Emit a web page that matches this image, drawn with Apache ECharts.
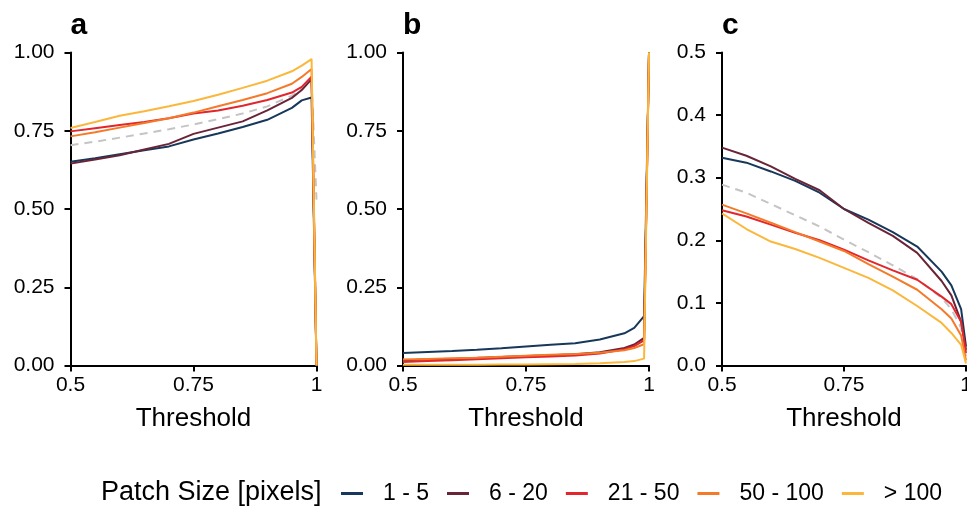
<!DOCTYPE html>
<html>
<head>
<meta charset="utf-8">
<script src="https://cdn.jsdelivr.net/npm/echarts@6/dist/echarts.min.js"></script>
<style>
html,body{margin:0;padding:0;background:#fff;}
#main{width:967px;height:506px;}
</style>
</head>
<body>
<div id="main"></div>
<script>
/*数据*/
var thresholds = [0.5,0.55,0.6,0.65,0.7,0.75,0.8,0.85,0.9,0.95,0.97,0.99,1];
var sizeLabels = ['1 - 5','6 - 20','21 - 50','50 - 100','> 100'];
var sizeColors = ['#17385a','#6a2438','#e2262b','#f47a2a','#fbb73c'];

// panel a
var a_1to5    = [0.651,0.662,0.675,0.688,0.700,0.722,0.741,0.762,0.785,0.823,0.847,0.856,0];
var a_6to20   = [0.645,0.658,0.672,0.690,0.708,0.740,0.760,0.780,0.815,0.855,0.880,0.915,0];
var a_21to50  = [0.748,0.758,0.768,0.778,0.790,0.805,0.815,0.830,0.848,0.872,0.890,0.923,0];
var a_50to100 = [0.732,0.745,0.760,0.775,0.790,0.808,0.828,0.848,0.870,0.900,0.922,0.947,0];
var a_gt100   = [0.759,0.778,0.798,0.812,0.828,0.845,0.865,0.887,0.910,0.940,0.958,0.979,0];
var a_all     = [0.704,0.715,0.728,0.741,0.755,0.770,0.787,0.805,0.828,0.862,0.885,0.910,0.53];

// panel b
var b_1to5    = [0.040,0.043,0.046,0.050,0.055,0.061,0.066,0.071,0.083,0.103,0.120,0.158,1];
var b_6to20   = [0.017,0.019,0.021,0.024,0.027,0.030,0.033,0.036,0.042,0.056,0.067,0.088,1];
var b_21to50  = [0.011,0.014,0.017,0.020,0.023,0.026,0.029,0.032,0.038,0.052,0.062,0.080,1];
var b_50to100 = [0.019,0.021,0.023,0.025,0.028,0.031,0.034,0.037,0.041,0.049,0.056,0.068,1];
var b_gt100   = [0.002,0.002,0.002,0.002,0.003,0.003,0.004,0.005,0.007,0.011,0.014,0.022,1];
var b_all     = [0.018,0.020,0.022,0.025,0.027,0.030,0.033,0.036,0.041,0.053,0.063,0.082,1];

// panel c
var c_1to5    = [0.332,0.324,0.310,0.295,0.276,0.250,0.233,0.213,0.190,0.150,0.128,0.090,0.030];
var c_6to20   = [0.348,0.335,0.318,0.298,0.280,0.250,0.228,0.207,0.180,0.135,0.112,0.070,0.025];
var c_21to50  = [0.248,0.238,0.225,0.212,0.200,0.185,0.168,0.152,0.137,0.110,0.098,0.070,0.020];
var c_50to100 = [0.257,0.243,0.228,0.213,0.198,0.183,0.162,0.142,0.121,0.090,0.075,0.048,0.008];
var c_gt100   = [0.243,0.218,0.198,0.186,0.172,0.156,0.140,0.120,0.095,0.068,0.052,0.033,0.003];
var c_all     = [0.289,0.276,0.258,0.240,0.222,0.201,0.181,0.160,0.138,0.108,0.090,0.060,0.015];

var panels = [
    {label:'a', lines:[a_1to5,a_6to20,a_21to50,a_50to100,a_gt100], all:a_all, max:1, step:0.25, dec:2},
    {label:'b', lines:[b_1to5,b_6to20,b_21to50,b_50to100,b_gt100], all:b_all, max:1, step:0.25, dec:2},
    {label:'c', lines:[c_1to5,c_6to20,c_21to50,c_50to100,c_gt100], all:c_all, max:0.5, step:0.1, dec:1}
];
var gridLeft = [70.5, 403, 722];
var gridWidth = [246, 246, 244];

var font = "'Liberation Sans', Arial, Helvetica, sans-serif";

function pairs(ys){
    return thresholds.map(function(x,i){return [x, ys[i]];});
}

var grids=[], xAxes=[], yAxes=[], series=[], titles=[];
panels.forEach(function(p, k){
    grids.push({left:gridLeft[k], top:52.5, width:gridWidth[k], height:313, outerBoundsMode:'none', containLabel:false});
    titles.push({text:p.label, left:gridLeft[k]-5, top:6,
        textStyle:{fontFamily:font, fontSize:30, fontWeight:'bold', color:'#000'}});
    xAxes.push({
        type:'value', gridIndex:k, min:0.5, max:1, interval:0.25,
        name:'Threshold', nameLocation:'middle', nameGap:40,
        nameTextStyle:{fontFamily:font, fontSize:26, color:'#000'},
        axisLine:{lineStyle:{color:'#000', width:2}},
        axisTick:{length:6, lineStyle:{color:'#000', width:2}},
        axisLabel:{fontFamily:font, fontSize:21, color:'#000', margin:9, hideOverlap:false,
            formatter:function(v){return v===1?'1':String(v);}},
        splitLine:{show:false}
    });
    yAxes.push({
        type:'value', gridIndex:k, min:0, max:p.max, interval:p.step,
        axisLine:{show:true, lineStyle:{color:'#000', width:2}},
        axisTick:{show:true, length:6, lineStyle:{color:'#000', width:2}},
        axisLabel:{fontFamily:font, fontSize:21, color:'#000', margin:16,
            formatter:function(v){return v.toFixed(p.dec);}},
        splitLine:{show:false}
    });
    // 虚线 (overall)
    series.push({
        type:'line', xAxisIndex:k, yAxisIndex:k, data:pairs(p.all), symbol:'none',
        lineStyle:{color:'#c4c4c4', width:2, type:[8,6]}, silent:true, z:1
    });
    p.lines.forEach(function(ys, j){
        series.push({
            name:sizeLabels[j], type:'line', xAxisIndex:k, yAxisIndex:k,
            data:pairs(ys), symbol:'none',
            lineStyle:{color:sizeColors[j], width:2}, itemStyle:{color:sizeColors[j]}, z:2+j
        });
    });
});

titles.push({text:'Patch Size [pixels]', left:96, top:474,
    textStyle:{fontFamily:font, fontSize:27, fontWeight:'normal', color:'#000'}});

var myChart = echarts.init(document.getElementById('main'));
var option = {
    animation:false,
    backgroundColor:'#fff',
    title:titles,
    grid:grids,
    xAxis:xAxes,
    yAxis:yAxes,
    legend:{
        data:sizeLabels, left:336, top:477, icon:'rect',
        itemWidth:22, itemHeight:3, itemGap:18,
        textStyle:{fontFamily:font, fontSize:23, color:'#000', padding:[0,0,0,15]}
    },
    series:series
};
myChart.setOption(option);
</script>
</body>
</html>
